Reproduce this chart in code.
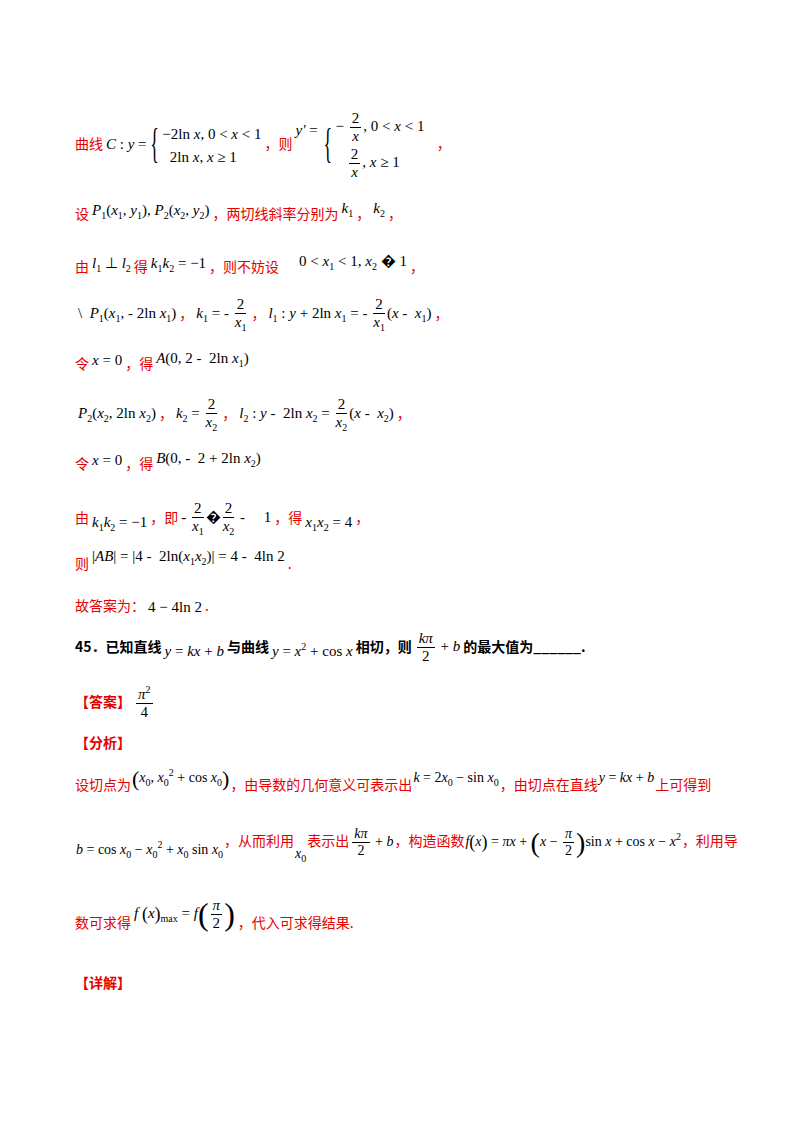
<!DOCTYPE html>
<html><head><meta charset="utf-8">
<script src="https://cdn.jsdelivr.net/npm/chart.js@4"></script>
<style>
body{margin:0;width:800px;height:1132px;background:#fff;position:relative;font-family:"Noto Sans CJK SC",sans-serif;}
.l{position:absolute;left:75px;font-size:14px;color:#e60000;white-space:nowrap;}
.m{font-family:"Liberation Serif",serif;font-size:15px;color:#000;margin:0 3px;vertical-align:middle;}
.f{display:inline-flex;flex-direction:column;align-items:center;margin:0 2px;line-height:1.15;vertical-align:middle}
.f>span:first-child{border-bottom:1px solid #000;padding:0 2px}
.b{display:inline-flex;flex-direction:column;position:relative;padding-left:12px;line-height:1.5;vertical-align:middle}
.b:before{content:"{";position:absolute;left:0;top:50%;transform:translateY(-55%) scaleY(2.3);font-size:18px;font-weight:100}
.k{color:#000;font-weight:bold}
sub,sup{font-size:10px}
.p{font-size:28px;vertical-align:middle;font-weight:100}
.t .m{font-size:14px;margin:0 1px}
</style></head><body>
<div class="l" style="top:110px">曲线<span class="m"><i>C</i> : <i>y</i> = <span class="b"><span>−2ln <i>x</i>, 0 &lt; <i>x</i> &lt; 1</span><span>&nbsp;&nbsp;2ln <i>x</i>, <i>x</i> ≥ 1</span></span></span>，则<span class="m" style="vertical-align:14px"><i>y'</i> =</span><span class="m"><span class="b"><span>− <span class="f"><span>2</span><span><i>x</i></span></span>, 0 &lt; <i>x</i> &lt; 1</span><span>&nbsp;&nbsp; <span class="f"><span>2</span><span><i>x</i></span></span>, <i>x</i> ≥ 1</span></span></span>&nbsp;&nbsp;&nbsp;，</div>
<div class="l" style="top:200px">设<span class="m" style="vertical-align:4px"><i>P</i><sub>1</sub>(<i>x</i><sub>1</sub>, <i>y</i><sub>1</sub>), <i>P</i><sub>2</sub>(<i>x</i><sub>2</sub>, <i>y</i><sub>2</sub>)</span>，两切线斜率分别为<span class="m" style="vertical-align:6px"><i>k</i><sub>1</sub></span>，<span class="m" style="vertical-align:6px"><i>k</i><sub>2</sub></span>，</div>
<div class="l" style="top:250px">由<span class="m" style="vertical-align:4px"><i>l</i><sub>1</sub> ⊥ <i>l</i><sub>2</sub></span>得<span class="m" style="vertical-align:4px"><i>k</i><sub>1</sub><i>k</i><sub>2</sub> = −1</span>，则不妨设<span class="m" style="margin-left:20px;vertical-align:6px">0 &lt; <i>x</i><sub>1</sub> &lt; 1, <i>x</i><sub>2</sub> � 1</span>，</div>
<div class="l" style="top:296px"><span class="m">\ &nbsp;<i>P</i><sub>1</sub>(<i>x</i><sub>1</sub>, - 2ln <i>x</i><sub>1</sub>)</span>，<span class="m"><i>k</i><sub>1</sub> = - <span class="f"><span>2</span><span><i>x</i><sub>1</sub></span></span></span>，<span class="m"><i>l</i><sub>1</sub> : <i>y</i> + 2ln <i>x</i><sub>1</sub> = - <span class="f"><span>2</span><span><i>x</i><sub>1</sub></span></span>(<i>x</i> - &nbsp;<i>x</i><sub>1</sub>)</span>，</div>
<div class="l" style="top:350px">令<span class="m" style="vertical-align:4px"><i>x</i> = 0</span>，得<span class="m" style="vertical-align:6px"><i>A</i>(0, 2 - &nbsp;2ln <i>x</i><sub>1</sub>)</span></div>
<div class="l" style="top:396px"><span class="m"><i>P</i><sub>2</sub>(<i>x</i><sub>2</sub>, 2ln <i>x</i><sub>2</sub>)</span>，<span class="m"><i>k</i><sub>2</sub> = <span class="f"><span>2</span><span><i>x</i><sub>2</sub></span></span></span>，<span class="m"><i>l</i><sub>2</sub> : <i>y</i> - &nbsp;2ln <i>x</i><sub>2</sub> = <span class="f"><span>2</span><span><i>x</i><sub>2</sub></span></span>(<i>x</i> - &nbsp;<i>x</i><sub>2</sub>)</span>，</div>
<div class="l" style="top:450px">令<span class="m" style="vertical-align:4px"><i>x</i> = 0</span>，得<span class="m" style="vertical-align:6px"><i>B</i>(0, - &nbsp;2 + 2ln <i>x</i><sub>2</sub>)</span></div>
<div class="l" style="top:500px">由<span class="m" style="vertical-align:-4px"><i>k</i><sub>1</sub><i>k</i><sub>2</sub> = −1</span>，即<span class="m">- <span class="f"><span>2</span><span><i>x</i><sub>1</sub></span></span>�<span class="f"><span>2</span><span><i>x</i><sub>2</sub></span></span> - &nbsp;&nbsp;&nbsp; 1</span>，得<span class="m" style="vertical-align:-4px"><i>x</i><sub>1</sub><i>x</i><sub>2</sub> = 4</span>，</div>
<div class="l" style="top:548px">则<span class="m" style="vertical-align:8px">|<i>AB</i>| = |4 - &nbsp;2ln(<i>x</i><sub>1</sub><i>x</i><sub>2</sub>)| = 4 - &nbsp;4ln 2</span>.</div>
<div class="l" style="top:595px">故答案为：<span class="m">4 − 4ln 2</span>.</div>
<div class="l k" style="top:630px">45．已知直线<span class="m" style="font-weight:normal;vertical-align:-4px"><i>y</i> = <i>kx</i> + <i>b</i></span>与曲线<span class="m" style="font-weight:normal;vertical-align:-4px"><i>y</i> = <i>x</i><sup>2</sup> + cos <i>x</i></span>相切，则<span class="m" style="font-weight:normal"><span class="f"><span><i>kπ</i></span><span>2</span></span> + <i>b</i></span>的最大值为______.</div>
<div class="l" style="top:684px"><b>【答案】</b><span class="m"><span class="f"><span><i>π</i><sup>2</sup></span><span>4</span></span></span></div>
<div class="l" style="top:732px"><b>【分析】</b></div>
<div class="l t" style="top:766px">设切点为<span class="m" style="vertical-align:8px"><span class="p" style="font-size:22px">(</span><i>x</i><sub>0</sub>, <i>x</i><sub>0</sub><sup>2</sup> + cos <i>x</i><sub>0</sub><span class="p" style="font-size:22px">)</span></span>，由导数的几何意义可表示出<span class="m" style="vertical-align:8px"><i>k</i> = 2<i>x</i><sub>0</sub> − sin <i>x</i><sub>0</sub></span>，由切点在直线<span class="m" style="vertical-align:8px"><i>y</i> = <i>kx</i> + <i>b</i></span>上可得到</div>
<div class="l t" style="top:826px"><span class="m" style="vertical-align:-8px"><i>b</i> = cos <i>x</i><sub>0</sub> − <i>x</i><sub>0</sub><sup>2</sup> + <i>x</i><sub>0</sub> sin <i>x</i><sub>0</sub></span>，从而利用<span class="m" style="vertical-align:-12px"><i>x</i><sub>0</sub></span>表示出<span class="m"><span class="f"><span><i>kπ</i></span><span>2</span></span> + <i>b</i></span>，构造函数<span class="m"><i>f</i><span class="p" style="font-size:18px">(</span><i>x</i><span class="p" style="font-size:18px">)</span> = <i>πx</i> + <span class="p">(</span><i>x</i> − <span class="f"><span><i>π</i></span><span>2</span></span><span class="p">)</span>sin <i>x</i> + cos <i>x</i> − <i>x</i><sup>2</sup></span>，利用导</div>
<div class="l" style="top:896px">数可求得<span class="m" style="vertical-align:10px"><i>f</i> <span class="p" style="font-size:18px">(</span><i>x</i><span class="p" style="font-size:18px">)</span><sub>max</sub> = <i>f</i><span class="p" style="font-size:32px">(</span><span class="f"><span><i>π</i></span><span>2</span></span><span class="p" style="font-size:32px">)</span></span>，代入可求得结果.</div>
<div class="l" style="top:972px"><b>【详解】</b></div>
</body></html>
